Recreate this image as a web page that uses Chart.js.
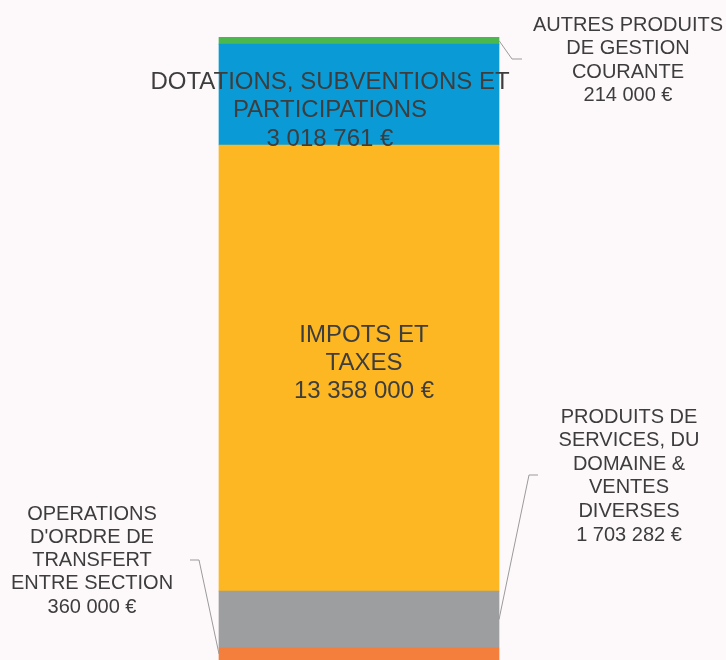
<!DOCTYPE html>
<html>
<head>
<meta charset="utf-8">
<script src="https://cdn.jsdelivr.net/npm/chart.js@4/dist/chart.umd.min.js"></script>
<style>
    html, body { margin: 0; padding: 0; background: #fdf8f9; }
    canvas { display: block; }
</style>
</head>
<body>
<canvas id="budgetChart" width="726" height="660"></canvas>
<script>
// segments, bottom to top
const categories = [
    "OPERATIONS\nD'ORDRE DE\nTRANSFERT\nENTRE SECTION",
    'PRODUITS DE\nSERVICES, DU\nDOMAINE &\nVENTES\nDIVERSES',
    'IMPOTS ET\nTAXES',
    'DOTATIONS, SUBVENTIONS ET\nPARTICIPATIONS',
    'AUTRES PRODUITS\nDE GESTION\nCOURANTE'
];
const amounts = [360000, 1703282, 13358000, 3018761, 214000];
const colors = ['#f47e3b', '#9d9ea0', '#fdb722', '#0a9bd6', '#4bb84e'];

const total = amounts.reduce((a, b) => a + b, 0);

// where each label goes (inside the bar, or outside with a leader line)
const labelLayout = [
    { side: 'left', textX: 92, textY: 514, lineH: 23.3, size: 20, elbowX: 199, elbowY: 560, endX: 190 },
    { side: 'right', textX: 629, textY: 417, lineH: 23.6, size: 20, elbowX: 529, elbowY: 475, endX: 538 },
    { side: 'inside', dx: 5, textY: 335, lineH: 28, size: 24 },
    { side: 'inside', dx: -29, textY: 82, lineH: 28.7, size: 24 },
    { side: 'right', textX: 628, textY: 25, lineH: 23.6, size: 20, elbowX: 512, elbowY: 59, endX: 522 }
];

function formatEuro(v) {
    return String(v).replace(/\B(?=(\d{3})+(?!\d))/g, ' ') + ' €';
}

const labelPlugin = {
    id: 'segmentLabels',
    afterDatasetsDraw(chart) {
        const ctx = chart.ctx;
        ctx.save();
        chart.data.datasets.forEach((ds, i) => {
            const bar = chart.getDatasetMeta(i).data[0];
            const p = bar.getProps(['x', 'y', 'base', 'width'], true);
            const lay = labelLayout[i];
            const lines = categories[i].split('\n').concat(formatEuro(amounts[i]));
            let cx = lay.textX;

            if (lay.side === 'inside') {
                cx = p.x + lay.dx;
            } else {
                const midY = (p.y + p.base) / 2;
                const edgeX = lay.side === 'right' ? p.x + p.width / 2 : p.x - p.width / 2;
                ctx.strokeStyle = '#9a9a9a';
                ctx.lineWidth = 1;
                ctx.beginPath();
                ctx.moveTo(edgeX, midY);
                ctx.lineTo(lay.elbowX, lay.elbowY);
                ctx.lineTo(lay.endX, lay.elbowY);
                ctx.stroke();
            }

            ctx.fillStyle = '#3d3d3d';
            ctx.font = lay.size + 'px "Liberation Sans", Arial, sans-serif';
            ctx.textAlign = 'center';
            ctx.textBaseline = 'middle';
            lines.forEach((line, k) => {
                ctx.fillText(line, cx, lay.textY + k * lay.lineH);
            });
        });
        ctx.restore();
    }
};

new Chart(document.getElementById('budgetChart').getContext('2d'), {
    type: 'bar',
    data: {
        labels: [''],
        datasets: amounts.map((v, i) => ({
            label: categories[i],
            data: [v],
            backgroundColor: colors[i],
            borderWidth: 0,
            barThickness: 280
        }))
    },
    options: {
        responsive: false,
        animation: false,
        layout: { padding: { top: 37, right: 8, left: 0, bottom: 0 } },
        scales: {
            x: { stacked: true, display: false },
            y: { stacked: true, display: false, min: 0, max: total }
        },
        plugins: {
            legend: { display: false },
            tooltip: { enabled: false }
        }
    },
    plugins: [labelPlugin]
});
</script>
</body>
</html>
